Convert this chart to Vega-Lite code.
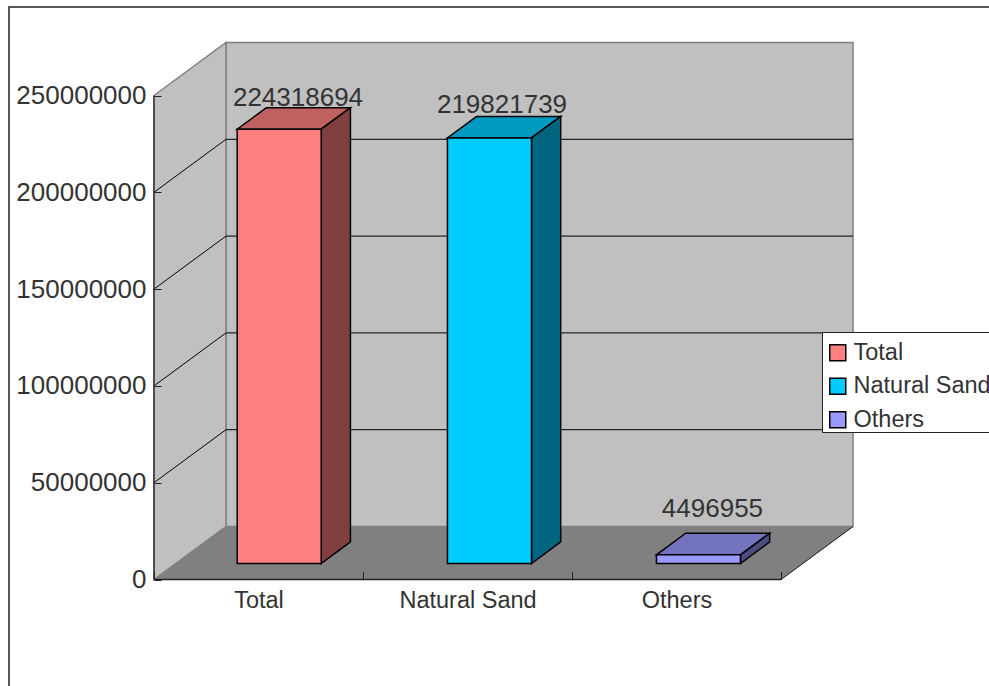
{
"$schema":"https://vega.github.io/schema/vega-lite/v6.json",
"width":985,"height":685,
"autosize":{"type":"none"},
"padding":{"left":9,"top":7,"right":0,"bottom":0},
"background":"white",
"view":{"stroke":"#222222","strokeWidth":1.5,"fill":"white"},
"datasets":{
"bars":[{"category":"Total","value":224318694,"index":0},{"category":"Natural Sand","value":219821739,"index":1},{"category":"Others","value":4496955,"index":2}],
"box":[{"xmin":0,"xmax":3,"vmin":0,"vmax":250000000}],
"ticks":[{"value":50000000},{"value":100000000},{"value":150000000},{"value":200000000}]
},
"encoding":{
"x":{"field":"x","type":"quantitative","title":null,"scale":{"domain":[-0.69378,4.01914],"nice":false,"zero":false},
"axis":{"orient":"bottom","offset":-112.5,"values":[0,0.5,1,1.5,2,2.5,3],"domain":false,"grid":false,"zindex":1,"tickSize":-8,"tickColor":"#222222","tickWidth":1,"tickOpacity":{"condition":{"test":"datum.value%1===0","value":1},"value":0},
"labelExpr":"datum.value==0.5?'Total':datum.value==1.5?'Natural Sand':datum.value==2.5?'Others':''","labelFont":"Liberation Sans","labelFontSize":23.5,"labelColor":"#333333","labelPadding":17,"labelOverlap":false,"labelBound":false,"labelFlush":false}},
"y":{"field":"y","type":"quantitative","title":null,"stack":null,"scale":{"domain":[-58109504,295712810],"nice":false,"zero":false},
"axis":{"orient":"left","offset":-145,"values":[0,50000000,100000000,150000000,200000000,250000000],"format":"d","domain":false,"grid":false,"zindex":1,"tickSize":-7,"tickColor":"#222222","tickWidth":1,
"labelFont":"Liberation Sans","labelFontSize":26,"labelColor":"#333333","labelPadding":15,"labelOverlap":false,"labelBound":false,"labelFlush":false}}
},
"layer":[
{"data":{"name":"box"},"transform":[{"calculate":"datum.xmin+0.3445","as":"x"},{"calculate":"datum.xmax+0.3445","as":"x2"},{"calculate":"datum.vmin+27376033","as":"y"},{"calculate":"datum.vmax+27376033","as":"y2"}],
"mark":{"type":"rect","fill":"#C0C0C0","stroke":"#808080","strokeWidth":1.5},"encoding":{"x2":{"field":"x2"},"y2":{"field":"y2"}}},
{"data":{"name":"box"},"transform":[{"calculate":"[0,1]","as":"t"},{"flatten":["t"]},{"calculate":"datum.t*0.3445","as":"x"},{"calculate":"datum.vmax+datum.t*27376033","as":"y"},{"calculate":"datum.t*27376033","as":"y2"}],
"mark":{"type":"area","fill":"#C0C0C0","stroke":"#808080","strokeWidth":1.5},"encoding":{"y2":{"field":"y2"}}},
{"data":{"name":"box"},"transform":[{"calculate":"[0,1]","as":"t"},{"flatten":["t"]},{"calculate":"datum.t*0.3445","as":"x"},{"calculate":"datum.xmax+datum.t*0.3445","as":"x2"},{"calculate":"datum.t*27376033","as":"y"}],
"mark":{"type":"area","orient":"horizontal","fill":"#808080","stroke":"#808080","strokeWidth":1},"encoding":{"x2":{"field":"x2"}}},
{"data":{"name":"ticks"},"transform":[{"calculate":"0","as":"x"},{"calculate":"0.3445","as":"x2"},{"calculate":"datum.value","as":"y"},{"calculate":"datum.value+27376033","as":"y2"}],
"mark":{"type":"rule","stroke":"#000000","strokeWidth":1},"encoding":{"x2":{"field":"x2"},"y2":{"field":"y2"}}},
{"data":{"name":"ticks"},"transform":[{"calculate":"0.3445","as":"x"},{"calculate":"3.3445","as":"x2"},{"calculate":"datum.value+27376033","as":"y"}],
"mark":{"type":"rule","stroke":"#000000","strokeWidth":1},"encoding":{"x2":{"field":"x2"}}},
{"data":{"name":"box"},"transform":[{"calculate":"datum.xmin","as":"x"},{"calculate":"datum.vmin","as":"y"},{"calculate":"datum.vmax","as":"y2"}],
"mark":{"type":"rule","stroke":"#333333","strokeWidth":1.5},"encoding":{"y2":{"field":"y2"}}},
{"data":{"name":"box"},"transform":[{"calculate":"datum.xmin","as":"x"},{"calculate":"datum.xmax","as":"x2"},{"calculate":"datum.vmin","as":"y"}],
"mark":{"type":"rule","stroke":"#222222","strokeWidth":1.5},"encoding":{"x2":{"field":"x2"}}},
{"data":{"name":"box"},"transform":[{"calculate":"datum.xmax","as":"x"},{"calculate":"datum.xmax+0.3445","as":"x2"},{"calculate":"datum.vmin","as":"y"},{"calculate":"datum.vmin+27376033","as":"y2"}],
"mark":{"type":"rule","stroke":"#222222","strokeWidth":1},"encoding":{"x2":{"field":"x2"},"y2":{"field":"y2"}}},
{"data":{"name":"bars"},"transform":[{"calculate":"datum.index+[0.294,0.3,0.3][datum.index]","as":"left"},{"calculate":"[0.302,0.708]","as":"t"},{"flatten":["t"]},{"calculate":"datum.left+datum.t*0.3445","as":"x"},{"calculate":"datum.left+0.402+datum.t*0.3445","as":"x2"},{"calculate":"datum.value+datum.t*27376033","as":"y"}],
"mark":{"type":"area","orient":"horizontal","stroke":"#000000","strokeWidth":1.5},
"encoding":{"x2":{"field":"x2"},"fill":{"field":"category","type":"nominal","legend":null,"scale":{"domain":["Total","Natural Sand","Others"],"range":["#C06060","#0099BF","#7373BF"]}}}},
{"data":{"name":"bars"},"transform":[{"calculate":"datum.index+[0.294,0.3,0.3][datum.index]","as":"left"},{"calculate":"[0.302,0.708]","as":"t"},{"flatten":["t"]},{"calculate":"datum.left+0.402+datum.t*0.3445","as":"x"},{"calculate":"datum.value+datum.t*27376033","as":"y"},{"calculate":"datum.t*27376033","as":"y2"}],
"mark":{"type":"area","stroke":"#000000","strokeWidth":1.5},
"encoding":{"y2":{"field":"y2"},"fill":{"field":"category","type":"nominal","legend":null,"scale":{"domain":["Total","Natural Sand","Others"],"range":["#804040","#006680","#4D4D80"]}}}},
{"data":{"name":"bars"},"transform":[{"calculate":"datum.index+[0.294,0.3,0.3][datum.index]","as":"left"},{"calculate":"datum.left+0.302*0.3445","as":"x"},{"calculate":"datum.left+0.402+0.302*0.3445","as":"x2"},{"calculate":"datum.value+0.302*27376033","as":"y"},{"calculate":"0.302*27376033","as":"y2"}],
"mark":{"type":"rect","stroke":"#000000","strokeWidth":1.5},
"encoding":{"x2":{"field":"x2"},"y2":{"field":"y2"},"fill":{"field":"category","type":"nominal","scale":{"domain":["Total","Natural Sand","Others"],"range":["#FF8080","#00CCFF","#9999FF"]},
"legend":{"orient":"none","legendX":813,"legendY":325,"title":" ","titleFontSize":1,"titlePadding":8,"fillColor":"white","strokeColor":"#222222","padding":0,"symbolOffset":4,"symbolType":"square","symbolSize":256,"symbolStrokeColor":"#000000","symbolStrokeWidth":1.5,"labelFont":"Liberation Sans","labelFontSize":23.5,"labelColor":"#333333","labelOffset":4,"rowPadding":8.5,"labelLimit":400}}}},
{"data":{"name":"bars"},"transform":[{"calculate":"datum.index+[0.689,0.665,0.672][datum.index]","as":"x"},{"calculate":"datum.value+0.708*27376033+[4900000,5700000,12400000][datum.index]","as":"y"}],
"mark":{"type":"text","font":"Liberation Sans","fontSize":26,"fill":"#333333","align":"center","baseline":"middle"},
"encoding":{"text":{"field":"value","type":"quantitative","format":"d"}}}
],
"resolve":{"scale":{"fill":"independent"}}
}
